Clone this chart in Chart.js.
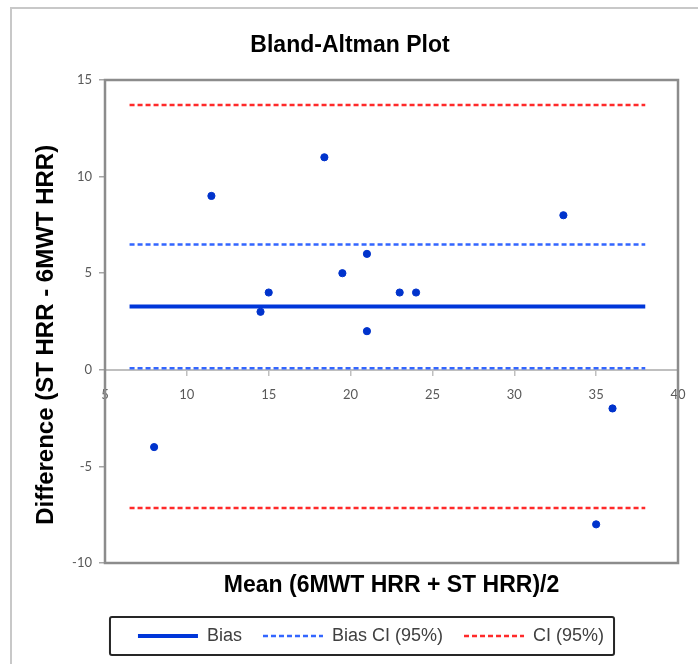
<!DOCTYPE html>
<html>
<head>
<meta charset="utf-8">
<script src="https://cdn.jsdelivr.net/npm/chart.js@4.4.1/dist/chart.umd.min.js"></script>
<style>
  html, body { margin: 0; padding: 0; background: #fff; }
  body { width: 698px; height: 664px; position: relative; overflow: hidden; }
  #frame { position: absolute; left: 10px; top: 7px; width: 720px; height: 700px;
           border-left: 2px solid #c8c8c8; border-top: 2px solid #c8c8c8; }
  #wrap { position: absolute; left: 0; top: 0; width: 698px; height: 664px; }
</style>
</head>
<body>
<div id="frame"></div>
<div id="wrap"><canvas id="baChart" width="698" height="664"></canvas></div>
<script>
// mean of the two methods and their difference, one entry per subject
const meanValues = [8, 11.5, 14.5, 15, 18.4, 19.5, 21, 21, 23, 24, 33, 35, 36];
const diffValues = [-4, 9, 3, 4, 11, 5, 6, 2, 4, 4, 8, -8, -2];

// horizontal reference lines
const biasValue = 3.28;
const biasCI = [0.08, 6.48];
const limitsCI = [-7.15, 13.7];
const lineRange = [6.5, 38];

const seriesNames = ['Bias', 'Bias CI (95%)', 'CI (95%)'];
const xTicks = [5, 10, 15, 20, 25, 30, 35, 40];
const yTicks = [-10, -5, 0, 5, 10, 15];

// a flat line across lineRange for each level, with a gap between levels
function hLines(levels) {
    const pts = [];
    levels.forEach(function(v, i) {
        if (i > 0) pts.push({x: lineRange[1], y: null});
        pts.push({x: lineRange[0], y: v});
        pts.push({x: lineRange[1], y: v});
    });
    return pts;
}

const plotBorder = {
    id: 'plotBorder',
    afterDatasetsDraw(chart) {
        const a = chart.chartArea;
        const ctx = chart.ctx;
        ctx.save();
        ctx.strokeStyle = '#8c8c8c';
        ctx.lineWidth = 2.5;
        ctx.strokeRect(a.left, a.top, a.right - a.left, a.bottom - a.top);
        ctx.restore();
    }
};

// legend sits a bit right of the canvas centre in the original
const legendBox = {
    id: 'legendBox',
    afterLayout(chart) {
        if (chart.legend) {
            chart.legend.left += 21;
            chart.legend.right += 21;
        }
    },
    afterDraw(chart) {
        const boxes = chart.legend && chart.legend.legendHitBoxes;
        if (!boxes || !boxes.length) return;
        let l = Infinity, r = -Infinity, t = Infinity, b = -Infinity;
        boxes.forEach(function(h) {
            l = Math.min(l, h.left);
            r = Math.max(r, h.left + h.width);
            t = Math.min(t, h.top);
            b = Math.max(b, h.top + h.height);
        });
        const ctx = chart.ctx;
        ctx.save();
        ctx.strokeStyle = '#262626';
        ctx.lineWidth = 2;
        ctx.beginPath();
        ctx.roundRect(l - 28, t - 10, (r + 10) - (l - 28), (b + 10) - (t - 10), 2);
        ctx.stroke();
        ctx.restore();
    }
};

const tickFont = {family: 'Lato', size: 13};
const tickColor = '#595959';

const ctx = document.getElementById('baChart').getContext('2d');
const chart = new Chart(ctx, {
    type: 'scatter',
    data: {
        datasets: [
            {
                label: 'points',
                data: meanValues.map(function(m, i) { return {x: m, y: diffValues[i]}; }),
                backgroundColor: '#0033cc',
                borderColor: '#0033cc',
                pointRadius: 3.6,
                pointHoverRadius: 3.6,
                xAxisID: 'x'
            },
            {
                label: seriesNames[0],
                data: hLines([biasValue]),
                showLine: true,
                borderColor: '#0036d9',
                backgroundColor: '#0036d9',
                borderWidth: 4,
                pointRadius: 0,
                xAxisID: 'x'
            },
            {
                label: seriesNames[1],
                data: hLines(biasCI),
                showLine: true,
                spanGaps: false,
                borderColor: '#3366ff',
                backgroundColor: '#3366ff',
                borderWidth: 2.5,
                borderDash: [5, 3],
                pointRadius: 0,
                xAxisID: 'x'
            },
            {
                label: seriesNames[2],
                data: hLines(limitsCI),
                showLine: true,
                spanGaps: false,
                borderColor: '#ff2a2a',
                backgroundColor: '#ff2a2a',
                borderWidth: 2.5,
                borderDash: [5, 3],
                pointRadius: 0,
                xAxisID: 'x'
            }
        ]
    },
    options: {
        responsive: false,
        animation: false,
        layout: { padding: {left: 22, right: 20, top: 0, bottom: 9} },
        scales: {
            x: {
                type: 'linear',
                position: {y: 0},
                min: xTicks[0],
                max: xTicks[xTicks.length - 1],
                afterBuildTicks: function(s) { s.ticks = xTicks.map(function(v) { return {value: v}; }); },
                ticks: { font: tickFont, color: tickColor, padding: 12, maxRotation: 0 },
                grid: { drawOnChartArea: false, drawTicks: true, tickLength: 5, color: '#bfbfbf', lineWidth: 1.5 },
                border: { display: true, color: '#bfbfbf', width: 2 }
            },
            x2: {
                type: 'linear',
                position: 'bottom',
                min: xTicks[0],
                max: xTicks[xTicks.length - 1],
                ticks: { display: false },
                grid: { display: false },
                border: { display: false },
                title: {
                    display: true,
                    text: 'Mean (6MWT HRR + ST HRR)/2',
                    color: '#000',
                    font: {family: 'Liberation Sans', size: 23, weight: 'bold'},
                    padding: {top: 0, bottom: 7}
                },
                afterFit: function(s) { s.height = 43; }
            },
            y: {
                type: 'linear',
                position: 'left',
                min: yTicks[0],
                max: yTicks[yTicks.length - 1],
                afterBuildTicks: function(s) { s.ticks = yTicks.map(function(v) { return {value: v}; }); },
                ticks: { font: tickFont, color: tickColor, padding: 7 },
                grid: { drawOnChartArea: false, drawTicks: true, tickLength: 6, color: '#a6a6a6', lineWidth: 1.5 },
                border: { display: false },
                title: {
                    display: true,
                    text: 'Difference (ST HRR - 6MWT HRR)    ',
                    color: '#000',
                    font: {family: 'Liberation Sans', size: 24, weight: 'bold'},
                    padding: {top: 9.6, bottom: 0}
                },
                afterFit: function(s) { s.width = 83; }
            }
        },
        plugins: {
            title: {
                display: true,
                text: 'Bland-Altman Plot',
                color: '#000',
                font: {family: 'Liberation Sans', size: 23, weight: 'bold'},
                padding: {top: 32.2, bottom: 20.2}
            },
            legend: {
                position: 'bottom',
                labels: {
                    font: {family: 'Liberation Sans', size: 18},
                    color: '#404040',
                    usePointStyle: true,
                    pointStyle: 'line',
                    pointStyleWidth: 60,
                    padding: 21,
                    generateLabels: function(chart) {
                        const items = Chart.defaults.plugins.legend.labels.generateLabels(chart);
                        return items.map(function(item) {
                            const ds = chart.data.datasets[item.datasetIndex];
                            item.lineDash = ds.borderDash || [];
                            item.lineWidth = ds.borderWidth;
                            item.strokeStyle = ds.borderColor;
                            return item;
                        });
                    },
                    filter: function(item) { return seriesNames.indexOf(item.text) >= 0; }
                }
            },
            tooltip: { enabled: false }
        }
    },
    plugins: [plotBorder, legendBox]
});
</script>
</body>
</html>
